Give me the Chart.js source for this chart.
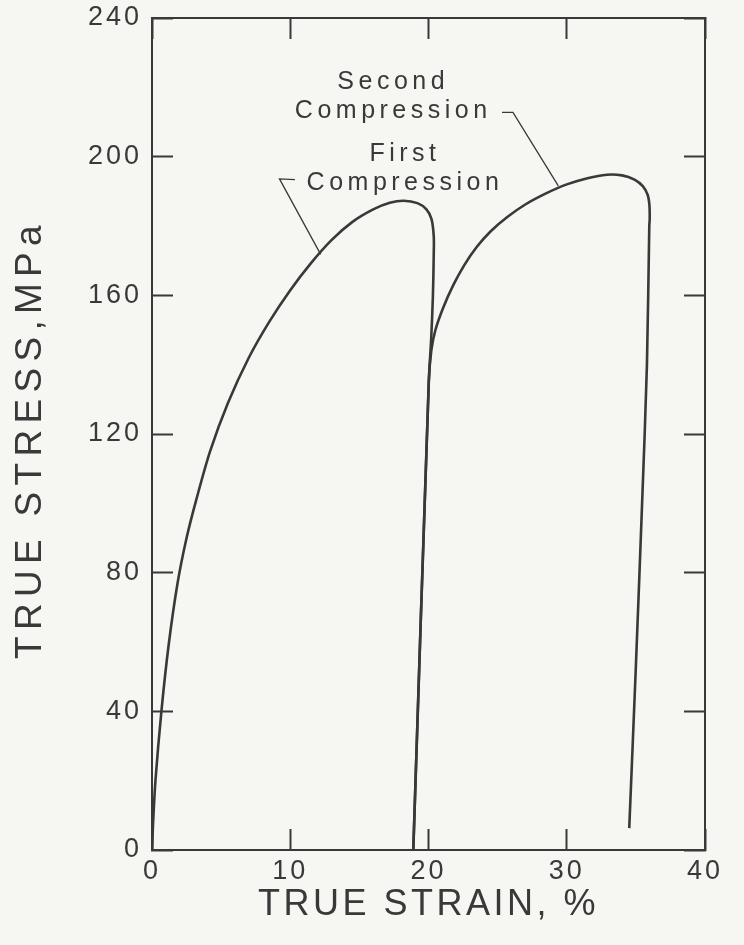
<!DOCTYPE html>
<html>
<head>
<meta charset="utf-8">
<script src="https://cdn.jsdelivr.net/npm/chart.js@4.4.1/dist/chart.umd.min.js"></script>
<style>
  html, body { margin: 0; padding: 0; background: #f6f6f2; }
  #wrap { width: 744px; height: 945px; }
</style>
</head>
<body>
<div id="wrap"><canvas id="stressChart" width="744" height="945"></canvas></div>
<script>
// first compression: true strain (%) vs true stress (MPa), loading then unloading
const firstStrain = [0.0, 0.08, 0.25, 0.68, 1.2, 1.85, 2.5, 3.2, 4.2, 5.5, 7.0, 8.5, 10.0, 11.5, 13.0, 14.5, 16.0, 17.2, 18.2, 19.2, 19.85, 20.22, 20.38, 20.38, 20.32, 20.2, 20.02, 18.9];
const firstStress = [0, 8, 20, 40, 59, 77, 90, 101, 115, 129, 142, 152.5, 161.5, 169.3, 176, 181.2, 184.8, 186.7, 187.3, 186.6, 184.8, 182, 177, 172, 160, 148, 135, 0];

// second compression: reloads along the first unloading line
const secondStrain = [18.9, 20.02, 20.2, 20.5, 21.07, 21.8, 22.6, 23.5, 24.5, 25.7, 27.0, 28.5, 30.0, 31.5, 32.9, 34.0, 34.9, 35.5, 35.85, 35.98, 36.0, 35.97, 35.8, 35.45, 35.0, 34.52];
const secondStress = [0, 135, 144, 150, 156.5, 163, 168.8, 174, 178.5, 182.6, 186.2, 189.4, 192, 193.8, 194.8, 194.6, 193.4, 191.5, 189, 186, 182, 180, 140, 100, 53, 6.3];

const strainTicks = [0, 10, 20, 30, 40];
const stressTicks = [0, 40, 80, 120, 160, 200, 240];

// curve labels with their leader lines (data units)
const curveNotes = [
  { lines: ['Second', 'Compression'], at: [17.45, 221.6], leader: [[25.32, 212.8], [26.11, 212.8], [29.39, 191.6]] },
  { lines: ['First', 'Compression'], at: [18.3, 200.6], leader: [[10.34, 193.4], [9.22, 193.6], [12.2, 171.8]] }
];

const ink = '#3a3839';
const paper = '#f6f6f2';
const fontFamily = '"Liberation Sans", Arial, Helvetica, sans-serif';

const toPoints = (xs, ys) => xs.map((v, i) => ({ x: v, y: ys[i] }));

const paperText = {
  id: 'paperText',
  beforeDraw(chart) {
    const ctx = chart.ctx;
    ctx.save();
    ctx.fillStyle = paper;
    ctx.fillRect(0, 0, chart.width, chart.height);
    ctx.restore();
    ctx.letterSpacing = '3px'; // picked up by the tick labels
  },
  afterDraw(chart) {
    const { ctx } = chart;
    const x = chart.scales.x, y = chart.scales.y;
    ctx.save();
    ctx.fillStyle = ink;
    ctx.strokeStyle = ink;
    ctx.textAlign = 'center';
    ctx.textBaseline = 'middle';

    // axis titles
    ctx.font = '36px ' + fontFamily;
    ctx.letterSpacing = '3.5px';
    ctx.fillText('TRUE STRAIN, %', (x.left + x.right) / 2, 905);
    ctx.save();
    ctx.translate(31, (y.top + y.bottom) / 2 + 5);
    ctx.rotate(-Math.PI / 2);
    ctx.font = '37px ' + fontFamily;
    ctx.letterSpacing = '6.3px';
    ctx.fillText('TRUE STRESS,MPa', 0, 0);
    ctx.restore();

    // curve labels
    ctx.font = '25px ' + fontFamily;
    ctx.letterSpacing = '4.5px';
    curveNotes.forEach(n => {
      const cx = x.getPixelForValue(n.at[0]);
      const cy = y.getPixelForValue(n.at[1]);
      n.lines.forEach((t, i) => ctx.fillText(t, cx, cy + i * 29));
      ctx.lineWidth = 1.3;
      ctx.beginPath();
      n.leader.forEach((p, i) => {
        const px = x.getPixelForValue(p[0]), py = y.getPixelForValue(p[1]);
        if (i === 0) ctx.moveTo(px, py); else ctx.lineTo(px, py);
      });
      ctx.stroke();
    });
    ctx.restore();
  }
};

// keep the plot frame fixed: no extra room for overhanging tick labels
const pinSize = (w, h) => s => {
  if (w !== null) s.width = w;
  if (h !== null) s.height = h;
  s.paddingLeft = s.paddingRight = s.paddingTop = s.paddingBottom = 0;
};

const tickFont = { family: fontFamily, size: 27 };
const frameGrid = { drawOnChartArea: false, drawTicks: true, tickLength: -21, tickWidth: 2, tickColor: ink };
const frameBorder = { display: true, color: ink, width: 2 };

new Chart(document.getElementById('stressChart'), {
  type: 'scatter',
  data: {
    datasets: [
      { label: 'First Compression', data: toPoints(firstStrain, firstStress) },
      { label: 'Second Compression', data: toPoints(secondStrain, secondStress) }
    ]
  },
  options: {
    responsive: false,
    animation: false,
    devicePixelRatio: 1,
    layout: { padding: 0 },
    elements: {
      point: { radius: 0 },
      line: { borderColor: ink, borderWidth: 2.6, tension: 0.3, fill: false }
    },
    datasets: { scatter: { showLine: true } },
    plugins: { legend: { display: false }, tooltip: { enabled: false } },
    scales: {
      x: {
        type: 'linear', position: 'bottom', min: 0, max: 40,
        afterBuildTicks: s => { s.ticks = strainTicks.map(v => ({ value: v })); },
        afterFit: pinSize(null, 95),
        grid: frameGrid, border: frameBorder,
        ticks: { color: ink, font: tickFont, padding: 26, maxRotation: 0 }
      },
      x2: {
        type: 'linear', position: 'top', min: 0, max: 40,
        afterBuildTicks: s => { s.ticks = strainTicks.map(v => ({ value: v })); },
        afterFit: pinSize(null, 18),
        grid: frameGrid, border: frameBorder,
        ticks: { display: false }
      },
      y: {
        type: 'linear', position: 'left', min: 0, max: 240,
        afterBuildTicks: s => { s.ticks = stressTicks.map(v => ({ value: v })); },
        afterFit: pinSize(152, null),
        grid: frameGrid, border: frameBorder,
        ticks: { color: ink, font: tickFont, padding: 31 }
      },
      y2: {
        type: 'linear', position: 'right', min: 0, max: 240,
        afterBuildTicks: s => { s.ticks = stressTicks.map(v => ({ value: v })); },
        afterFit: pinSize(39, null),
        grid: frameGrid, border: frameBorder,
        ticks: { display: false }
      }
    }
  },
  plugins: [paperText]
});
</script>
</body>
</html>
